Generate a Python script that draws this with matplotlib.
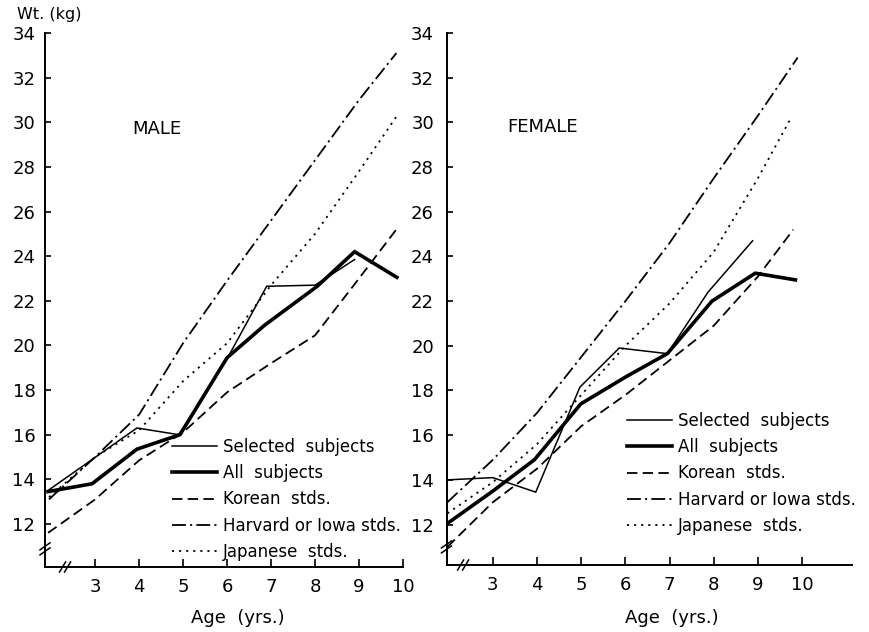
import matplotlib
matplotlib.use("Agg")
import matplotlib.pyplot as plt
from matplotlib.lines import Line2D

plt.rcParams['font.family'] = ['DejaVu Sans']
plt.rcParams['lines.scale_dashes'] = False

# ---- data (age in yrs, weight in kg) ----
m_sel_age = [1.93, 3.95, 4.9, 6.0, 6.9, 8.0, 8.9]
m_sel_wt = [13.5, 16.3, 16.0, 19.4, 22.65, 22.7, 23.85]
m_all_age = [1.93, 2.93, 3.95, 4.93, 6.0, 6.85, 8.05, 8.9, 9.86]
m_all_wt = [13.45, 13.8, 15.35, 16.0, 19.45, 20.9, 22.65, 24.2, 23.05]
m_kor_age = [1.93, 3, 4, 5, 6, 7, 8, 9, 9.85]
m_kor_wt = [11.6, 13.1, 14.85, 16.1, 17.9, 19.2, 20.45, 23.0, 25.2]
m_har_age = [1.95, 3, 4, 5, 6, 7, 8, 9, 9.85]
m_har_wt = [13.1, 15.0, 16.9, 20.1, 22.9, 25.6, 28.3, 31.0, 33.1]
m_jap_age = [1.95, 3, 4, 5, 6, 7, 8, 9, 9.9]
m_jap_wt = [13.2, 15.0, 16.2, 18.4, 20.1, 22.7, 25.0, 27.8, 30.4]

f_sel_age = [1.97, 3.0, 3.97, 4.97, 5.86, 6.95, 7.87, 8.88]
f_sel_wt = [14.0, 14.1, 13.45, 18.15, 19.9, 19.65, 22.4, 24.7]
f_all_age = [1.97, 3.0, 3.94, 4.99, 6.0, 6.95, 7.96, 8.94, 9.85]
f_all_wt = [12.05, 13.5, 14.9, 17.4, 18.6, 19.65, 22.0, 23.25, 22.95]
f_kor_age = [1.97, 3, 4, 5, 6, 7, 8, 9, 9.8]
f_kor_wt = [11.0, 13.0, 14.5, 16.4, 17.8, 19.35, 20.9, 23.1, 25.2]
f_har_age = [1.97, 3, 4, 5, 6, 7, 8, 9, 9.9]
f_har_wt = [13.0, 14.9, 17.0, 19.5, 22.0, 24.6, 27.5, 30.3, 32.9]
f_jap_age = [1.97, 3, 4, 5, 6, 7, 8, 9, 9.75]
f_jap_wt = [12.5, 13.9, 15.6, 17.8, 20.0, 21.9, 24.2, 27.5, 30.2]

x_ticks = [3, 4, 5, 6, 7, 8, 9, 10]
y_ticks = [12, 14, 16, 18, 20, 22, 24, 26, 28, 30, 32, 34]
labels = ['Selected  subjects', 'All  subjects', 'Korean  stds.',
          'Harvard or Iowa stds.', 'Japanese  stds.']

# line styles for the five series
styles = [
    dict(color='black', lw=1.1, linestyle='-'),
    dict(color='black', lw=2.6, linestyle='-'),
    dict(color='black', lw=1.3, linestyle=(0, (7.5, 3.8))),
    dict(color='black', lw=1.3, linestyle=(0, (10, 3, 1.5, 3))),
    dict(color='black', lw=1.3, linestyle=(0, (1.5, 3.6))),
]

W, H = 870, 632
fig = plt.figure(figsize=(W / 100, H / 100), dpi=100)


def px_axes(x0, x1, y_top, y_bot):
    return fig.add_axes([x0 / W, 1 - y_bot / H, (x1 - x0) / W, (y_bot - y_top) / H])


def setup(ax, xlim, ylim, ypad):
    ax.set_xlim(*xlim)
    ax.set_ylim(*ylim)
    for s in ['top', 'right']:
        ax.spines[s].set_visible(False)
    for s in ['left', 'bottom']:
        ax.spines[s].set_linewidth(1.4)
    ax.set_xticks(x_ticks)
    ax.set_yticks(y_ticks)
    ax.tick_params(axis='x', direction='in', length=5.5, width=1.2, pad=8, labelsize=13)
    ax.tick_params(axis='y', direction='in', length=4.5, width=1.2, pad=ypad, labelsize=13)
    ax.patch.set_alpha(0)


def breaks(ax, xb, yb, wpx, hpx):
    # little "//" break marks on both axes
    dx, dy = 5 / wpx, 5 / hpx
    kw = dict(transform=ax.transAxes, clip_on=False, color='black', lw=1.1)
    for off in (-2.5, 2.5):
        ax.plot([-dx, dx], [yb + off / hpx - dy * 0.7, yb + off / hpx + dy * 0.7], **kw)
        ax.plot([xb + off / wpx - dx * 0.6, xb + off / wpx + dx * 0.6], [-dy, dy], **kw)
    ax.plot([0, 0], [yb - 1.5 / hpx, yb + 1.5 / hpx], transform=ax.transAxes,
            clip_on=False, color='white', lw=2.5, zorder=1)
    ax.plot([xb - 1.5 / wpx, xb + 1.5 / wpx], [0, 0], transform=ax.transAxes,
            clip_on=False, color='white', lw=2.5, zorder=1)


# ---- male ----
axm = px_axes(45, 403, 33, 567)
setup(axm, (1.86, 10.0), (10.07, 34), 7)
male = [(m_sel_age, m_sel_wt), (m_all_age, m_all_wt), (m_kor_age, m_kor_wt),
        (m_har_age, m_har_wt), (m_jap_age, m_jap_wt)]
for (a, w), st in zip(male, styles):
    axm.plot(a, w, solid_joinstyle='miter', **st)
breaks(axm, 0.056, 0.034, 358, 534)

# ---- female ----
axf = px_axes(446.5, 852, 33, 565)
setup(axf, (1.95, 11.13), (10.19, 34), 9)
female = [(f_sel_age, f_sel_wt), (f_all_age, f_all_wt), (f_kor_age, f_kor_wt),
          (f_har_age, f_har_wt), (f_jap_age, f_jap_wt)]
for (a, w), st in zip(female, styles):
    axf.plot(a, w, solid_joinstyle='miter', **st)
breaks(axf, 0.041, 0.034, 405.5, 532)

handles = [Line2D([], [], **st) for st in styles]
leg_kw = dict(loc='upper left', frameon=False, fontsize=12, handlelength=2.7,
              handletextpad=0.35, labelspacing=0.5, borderpad=0, borderaxespad=0)
axm.legend(handles, labels, bbox_to_anchor=(0.355, 0.242), **leg_kw)
axf.legend(handles, labels, bbox_to_anchor=(0.445, 0.288), **leg_kw)

fig.text(49 / W, 1 - 15 / H, 'Wt. (kg)', ha='center', va='center', fontsize=11.5)
fig.text(157 / W, 1 - 129 / H, 'MALE', ha='center', va='center', fontsize=13)
fig.text(543 / W, 1 - 127 / H, 'FEMALE', ha='center', va='center', fontsize=13)
fig.text(238 / W, 1 - 618 / H, 'Age  (yrs.)', ha='center', va='center', fontsize=13)
fig.text(672 / W, 1 - 618 / H, 'Age  (yrs.)', ha='center', va='center', fontsize=13)

fig.savefig('out.png', dpi=100, facecolor='white')
